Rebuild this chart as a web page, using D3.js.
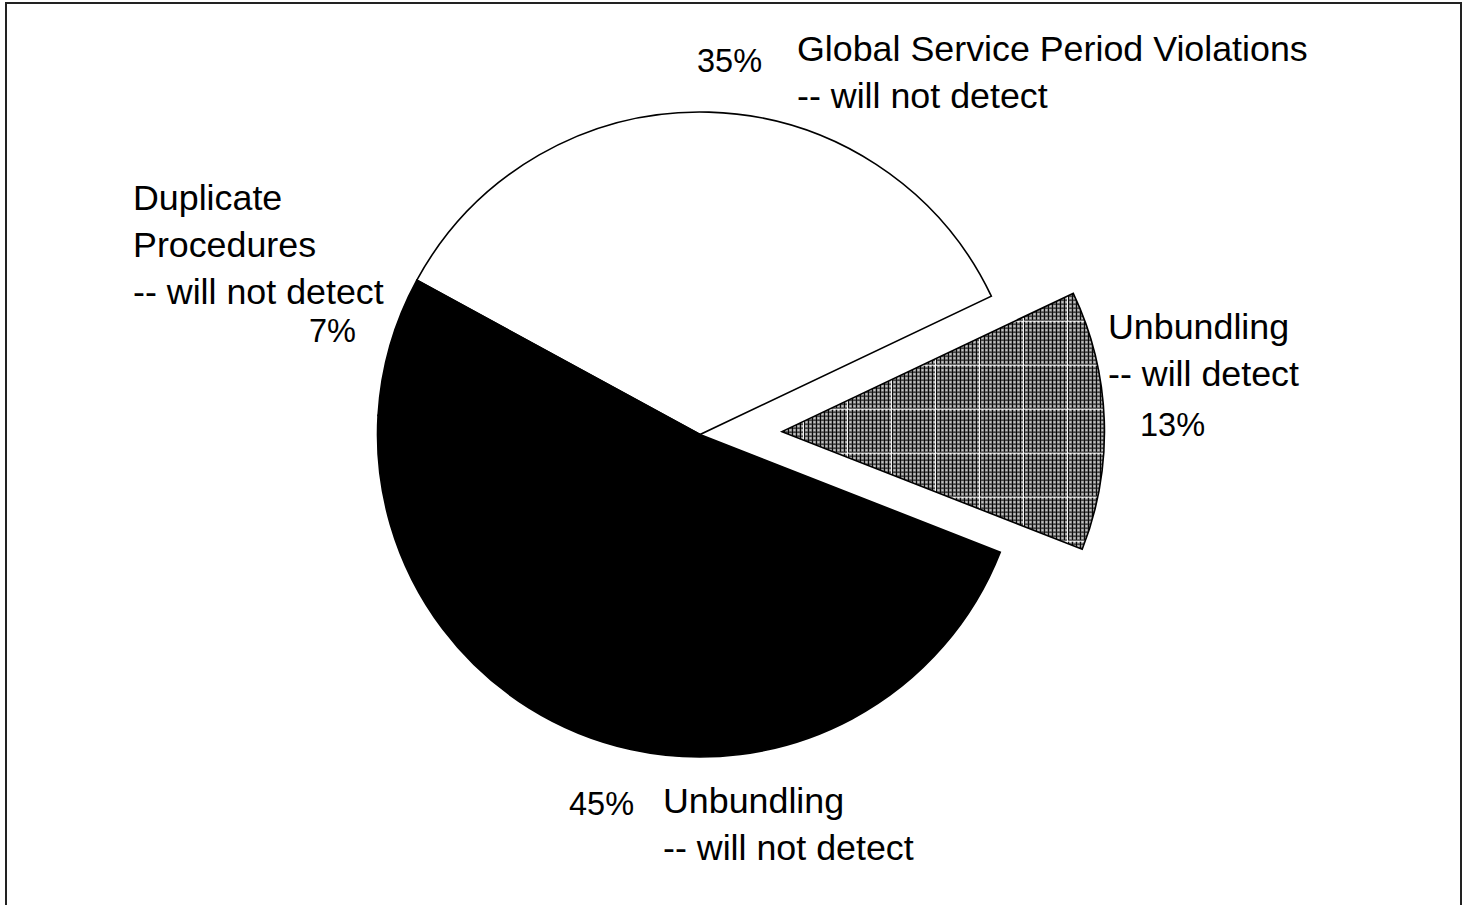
<!DOCTYPE html>
<html><head><meta charset="utf-8">
<script src="https://cdn.jsdelivr.net/npm/d3@7"></script>
<style>html,body{margin:0;padding:0;background:#fff;overflow:hidden}</style>
</head><body>
<svg id="chart" width="1468" height="905"></svg>
<script>
// ---- data ----
const categories = [
  "Global Service Period Violations -- will not detect",
  "Unbundling -- will detect",
  "Unbundling -- will not detect",
  "Duplicate Procedures -- will not detect"
];
const labelLines = [
  ["Global Service Period Violations", "-- will not detect"],
  ["Unbundling", "-- will detect"],
  ["Unbundling", "-- will not detect"],
  ["Duplicate", "Procedures", "-- will not detect"]
];
const values = [35, 13, 45, 7];
const pctLabels = ["35%", "13%", "45%", "7%"];

// ---- layout / style ----
const W = 1468, H = 905;
const cx = 700, cy = 434.5, R = 322.5;
const startDeg = -61.4;
const explode = [0, 82, 0, 0];
const fills = ["#ffffff", "url(#hatch)", "#000000", "#000000"];
const catPos = [ {x: 797, y: 61}, {x: 1108, y: 339}, {x: 663, y: 813}, {x: 133, y: 210} ];
const pctPos = [ {x: 697, y: 72}, {x: 1140, y: 436}, {x: 569, y: 815}, {x: 309, y: 342} ];
const lineH = 47;
const fontFam = "'Liberation Sans', Arial, Helvetica, sans-serif";

const svg = d3.select("#chart");
svg.append("rect").attr("width", W).attr("height", H).attr("fill", "#fff");

// hatch pattern
const defs = svg.append("defs");
const pat = defs.append("pattern").attr("id", "hatch")
  .attr("patternUnits", "userSpaceOnUse")
  .attr("x", 22).attr("y", 22).attr("width", 44).attr("height", 44);
pat.append("rect").attr("width", 44).attr("height", 44).attr("fill", "#9a9a9a");
const cells = d3.range(11);
cells.forEach(i => {
  pat.append("rect").attr("x", i * 4).attr("y", 0).attr("width", 1).attr("height", 44).attr("fill", "#000");
  pat.append("rect").attr("x", 0).attr("y", i * 4 + 2).attr("width", 44).attr("height", 1).attr("fill", "#111");
  cells.forEach(j => {
    pat.append("rect").attr("x", i * 4 + 2).attr("y", j * 4).attr("width", 1).attr("height", 1).attr("fill", "#e0e0e0");
  });
});
pat.append("rect").attr("x", 43).attr("y", 0).attr("width", 1).attr("height", 44).attr("fill", "#fff");
pat.append("rect").attr("x", 0).attr("y", 43).attr("width", 44).attr("height", 1).attr("fill", "#fff");

const start = startDeg * Math.PI / 180;
const pie = d3.pie().sort(null).value(d => d).startAngle(start).endAngle(start + 2 * Math.PI);
const arc = d3.arc().innerRadius(0).outerRadius(R);
const arcs = pie(values);

const g = svg.append("g").attr("transform", `translate(${cx},${cy})`);
g.selectAll("path.slice").data(arcs).join("path")
  .attr("class", "slice")
  .attr("d", arc)
  .attr("fill", (d, i) => fills[i])
  .attr("stroke", "#000")
  .attr("stroke-width", 1.6)
  .attr("stroke-linejoin", "miter")
  .attr("transform", (d, i) => {
    const m = (d.startAngle + d.endAngle) / 2;
    return `translate(${Math.sin(m) * explode[i]},${-Math.cos(m) * explode[i]})`;
  });

// category labels
labelLines.forEach((lines, i) => {
  const t = svg.append("text")
    .attr("x", catPos[i].x).attr("y", catPos[i].y)
    .attr("font-family", fontFam).attr("font-size", 35.8).attr("fill", "#000");
  lines.forEach((ln, k) => {
    t.append("tspan").attr("x", catPos[i].x).attr("y", catPos[i].y + k * lineH).text(ln);
  });
});
// percent labels
pctLabels.forEach((p, i) => {
  svg.append("text").attr("x", pctPos[i].x).attr("y", pctPos[i].y)
    .attr("font-family", fontFam).attr("font-size", 32.5).attr("fill", "#000").text(p);
});

// frame
svg.append("rect").attr("x", 6).attr("y", 3).attr("width", 1455).attr("height", 930)
  .attr("fill", "none").attr("stroke", "#222").attr("stroke-width", 2);
</script>
</body></html>
